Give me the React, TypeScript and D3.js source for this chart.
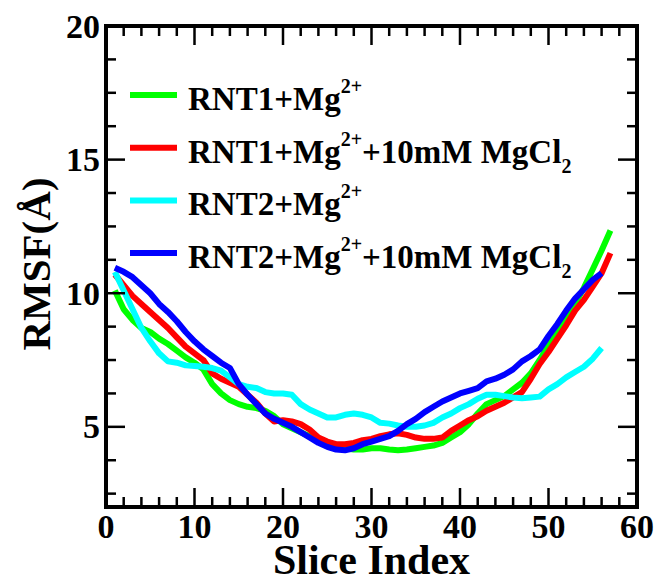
import React from "react";
import * as d3 from "d3";

const W = 658;
const H = 579;

const xTicks = [0, 10, 20, 30, 40, 50, 60];
const yTicks = [5, 10, 15, 20];

const green = [10.1, 9.4, 9.0, 8.7, 8.55, 8.3, 8.1, 7.85, 7.6, 7.4, 7.15, 6.6, 6.25, 6.0, 5.85, 5.75, 5.7, 5.6, 5.4, 5.1, 4.95, 4.8, 4.65, 4.45, 4.35, 4.25, 4.2, 4.15, 4.15, 4.2, 4.2, 4.15, 4.12, 4.15, 4.2, 4.25, 4.3, 4.4, 4.6, 4.8, 5.1, 5.5, 5.85, 6.0, 6.15, 6.4, 6.65, 7.0, 7.5, 8.05, 8.5, 9.05, 9.6, 10.2, 10.9, 11.6, 12.35];
const red = [10.7, 10.3, 9.9, 9.6, 9.3, 9.0, 8.7, 8.35, 8.0, 7.75, 7.5, 7.0, 6.8, 6.65, 6.5, 6.2, 5.9, 5.5, 5.2, 5.25, 5.2, 5.1, 4.9, 4.6, 4.45, 4.35, 4.35, 4.4, 4.5, 4.55, 4.65, 4.72, 4.76, 4.7, 4.6, 4.55, 4.55, 4.6, 4.85, 5.05, 5.25, 5.4, 5.6, 5.75, 5.9, 6.1, 6.3, 6.8, 7.35, 7.8, 8.3, 8.8, 9.35, 9.75, 10.25, 10.75, 11.5];
const cyan = [10.8, 10.1, 9.4, 8.7, 8.2, 7.75, 7.45, 7.4, 7.3, 7.28, 7.25, 7.2, 7.1, 6.85, 6.6, 6.5, 6.45, 6.3, 6.25, 6.25, 6.2, 5.85, 5.65, 5.5, 5.35, 5.35, 5.45, 5.5, 5.45, 5.35, 5.15, 5.12, 5.05, 5.0, 5.0, 5.05, 5.15, 5.35, 5.5, 5.7, 5.85, 6.05, 6.2, 6.2, 6.15, 6.1, 6.07, 6.1, 6.13, 6.4, 6.6, 6.85, 7.05, 7.25, 7.55, 7.95];
const blue = [10.95, 10.8, 10.6, 10.3, 10.0, 9.6, 9.3, 8.95, 8.55, 8.2, 7.9, 7.65, 7.4, 7.2, 6.6, 6.2, 5.85, 5.5, 5.3, 5.15, 5.0, 4.8, 4.6, 4.4, 4.25, 4.15, 4.12, 4.2, 4.35, 4.45, 4.55, 4.65, 4.85, 5.1, 5.3, 5.55, 5.75, 5.95, 6.1, 6.25, 6.35, 6.45, 6.7, 6.8, 6.95, 7.15, 7.45, 7.65, 7.9, 8.4, 8.85, 9.35, 9.8, 10.15, 10.5, 10.75];

const seriesNames = ["RNT1+Mg", "RNT1+Mg", "RNT2+Mg", "RNT2+Mg"];
const seriesSuffix = ["", "+10mM MgCl", "", "+10mM MgCl"];
const seriesColors = ["#00ff00", "#ff0000", "#00ffff", "#0000ff"];
const seriesData = [green, red, cyan, blue];

export default function App() {
  const L = 106, R = 637, T = 26, B = 507;
  const x = d3.scaleLinear().domain([0, 60]).range([L, R]);
  const y = d3.scaleLinear().domain([2, 20]).range([B, T]);
  const line = d3
    .line<number>()
    .x((_, i) => x(i + 1))
    .y((d) => y(d));

  const xMinor = d3.range(0, 61, 2);
  const yMinor = d3.range(2.5, 20.01, 1.25);

  return (
    <svg width={W} height={H} style={{ position: "absolute", left: 0, top: 0, display: "block", background: "#fff" }}>
      <g>
        {seriesData.map((s, i) => (
          <path key={i} d={line(s) || ""} fill="none" stroke={seriesColors[i]} strokeWidth={6} strokeLinejoin="round" />
        ))}
      </g>
      <g stroke="#000" strokeWidth={2.5}>
        {xMinor.map((v) => {
          const len = v % 10 === 0 ? 19 : 10;
          return (
            <g key={"x" + v}>
              <line x1={x(v)} x2={x(v)} y1={B} y2={B - len} />
              <line x1={x(v)} x2={x(v)} y1={T} y2={T + len} />
            </g>
          );
        })}
        {yMinor.map((v) => {
          const len = Math.abs(v % 5) < 1e-6 ? 19 : 10;
          return (
            <g key={"y" + v}>
              <line x1={L} x2={L + len} y1={y(v)} y2={y(v)} />
              <line x1={R} x2={R - len} y1={y(v)} y2={y(v)} />
            </g>
          );
        })}
      </g>
      <rect x={L} y={T} width={R - L} height={B - T} fill="none" stroke="#000" strokeWidth={4} />
      <g fontFamily="Liberation Serif" fontWeight="bold">
        {xTicks.map((v) => (
          <text key={"xl" + v} x={x(v)} y={538} textAnchor="middle" fontSize={34}>
            {String(v)}
          </text>
        ))}
        {yTicks.map((v) => (
          <text key={"yl" + v} x={100} y={y(v) + 11.5} textAnchor="end" fontSize={34}>
            {String(v)}
          </text>
        ))}
        <text x={(L + R) / 2} y={574} textAnchor="middle" fontSize={42}>
          {"Slice Index"}
        </text>
        <text transform={`translate(50,264) rotate(-90)`} textAnchor="middle" fontSize={41}>
          {"RMSF(Å)"}
        </text>
        {seriesNames.map((name, i) => {
          const ly = 95 + i * 52.7;
          return (
            <g key={"lg" + i}>
              <line x1={130} x2={177} y1={ly} y2={ly} stroke={seriesColors[i]} strokeWidth={6} />
              <text x={188} y={ly + 15} fontSize={33}>
                <tspan>{name}</tspan>
                <tspan dy={-17} fontSize={20}>{"2+"}</tspan>
                {seriesSuffix[i] ? <tspan dy={17}>{seriesSuffix[i]}</tspan> : null}
                {seriesSuffix[i] ? <tspan dy={10} fontSize={20}>{"2"}</tspan> : null}
              </text>
            </g>
          );
        })}
      </g>
    </svg>
  );
}
